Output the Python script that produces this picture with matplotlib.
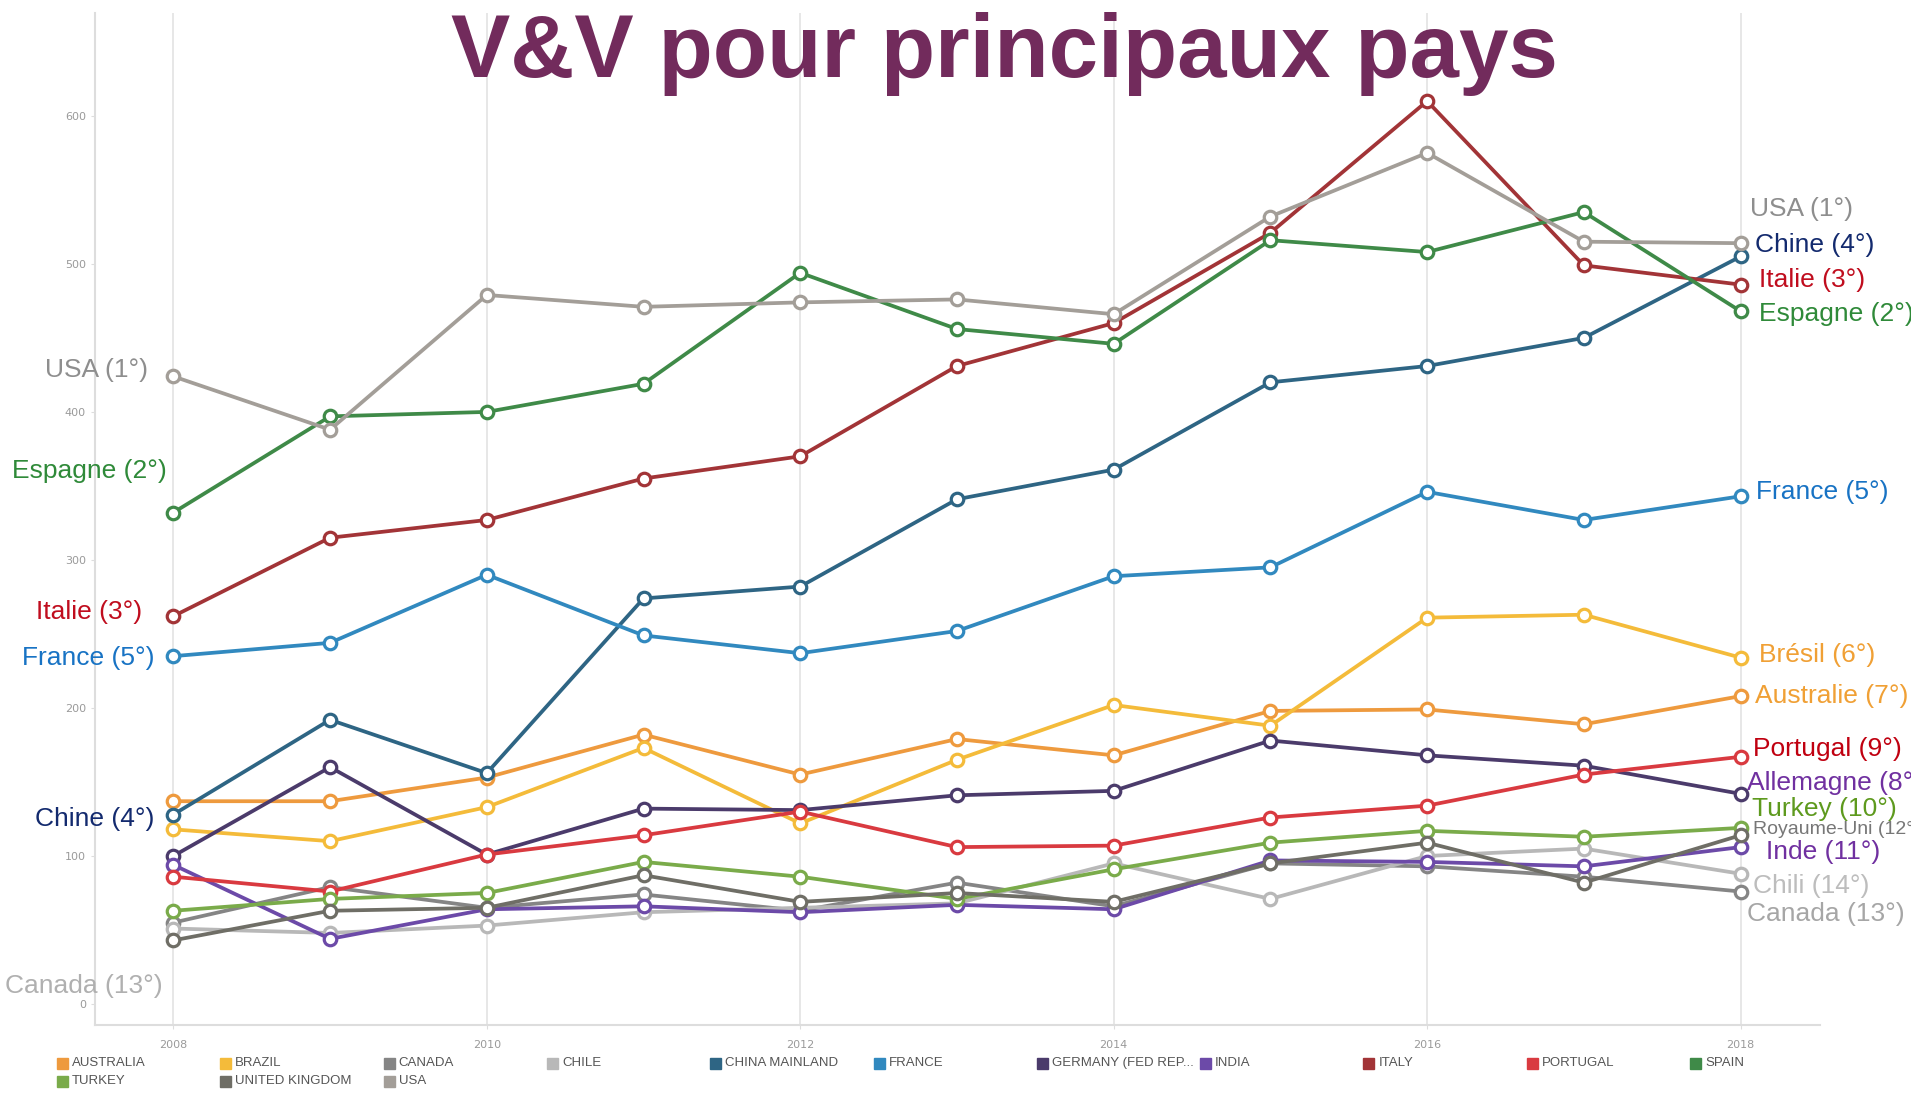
import matplotlib
matplotlib.use("Agg")
import matplotlib.pyplot as plt
from matplotlib.patches import Rectangle

# ---- data ----
years = list(range(2008, 2019))

countries = ["AUSTRALIA", "BRAZIL", "CANADA", "CHILE", "CHINA MAINLAND", "FRANCE",
             "GERMANY (FED REP...", "INDIA", "ITALY", "PORTUGAL", "SPAIN",
             "TURKEY", "UNITED KINGDOM", "USA"]
colors = ["#ee9a3e", "#f4bb3a", "#858585", "#b8b8b8", "#2e6584", "#3189bf",
          "#4b3b6b", "#6c4aa8", "#a23437", "#d93a40", "#3f8a48",
          "#7aab4a", "#6f6e66", "#a39e98"]

australia = [137, 137, 153, 182, 155, 179, 168, 198, 199, 189, 208]
brazil = [118, 110, 133, 173, 122, 165, 202, 188, 261, 263, 234]
canada = [55, 79, 65, 74, 63, 82, 66, 95, 93, 86, 76]
chile = [51, 48, 53, 62, 65, 68, 95, 71, 100, 105, 88]
china = [128, 192, 156, 274, 282, 341, 361, 420, 431, 450, 505]
france = [235, 244, 290, 249, 237, 252, 289, 295, 346, 327, 343]
germany = [100, 160, 101, 132, 131, 141, 144, 178, 168, 161, 142]
india = [94, 44, 64, 66, 62, 67, 64, 97, 96, 93, 106]
italy = [262, 315, 327, 355, 370, 431, 460, 521, 610, 499, 486]
portugal = [86, 76, 101, 114, 130, 106, 107, 126, 134, 155, 167]
spain = [332, 397, 400, 419, 494, 456, 446, 516, 508, 535, 468]
turkey = [63, 71, 75, 96, 86, 71, 91, 109, 117, 113, 119]
uk = [43, 63, 65, 87, 69, 75, 69, 95, 109, 82, 114]
usa = [424, 388, 479, 471, 474, 476, 466, 532, 575, 515, 514]

series = [australia, brazil, canada, chile, china, france, germany, india,
          italy, portugal, spain, turkey, uk, usa]

# annotations: (text, x, y, color, size)
left_labels = [
    ("USA (1°)", 2007.84, 428, "#8e8e8e", 19),
    ("Espagne (2°)", 2007.96, 360, "#2f8a39", 19),
    ("Italie (3°)", 2007.80, 265, "#c00d1e", 19),
    ("France (5°)", 2007.88, 234, "#1873c4", 19),
    ("Chine (4°)", 2007.88, 125, "#132a6e", 19),
    ("Canada (13°)", 2007.93, 12, "#b0b0b0", 19),
]
right_labels = [
    ("USA (1°)", 2018.06, 537, "#8e8e8e", 19),
    ("Chine (4°)", 2018.09, 513, "#132a6e", 19),
    ("Italie (3°)", 2018.12, 489, "#c00d1e", 19),
    ("Espagne (2°)", 2018.12, 466, "#2f8a39", 19),
    ("France (5°)", 2018.10, 346, "#1873c4", 19),
    ("Brésil (6°)", 2018.12, 236, "#f0a035", 19),
    ("Australie (7°)", 2018.09, 208, "#f0a035", 19),
    ("Portugal (9°)", 2018.08, 172, "#c00010", 19),
    ("Allemagne (8°)", 2018.04, 149, "#7030a0", 19),
    ("Turkey (10°)", 2018.07, 132, "#5e9a1e", 19),
    ("Royaume-Uni (12°)", 2018.08, 118, "#777777", 14),
    ("Inde (11°)", 2018.16, 103, "#7030a0", 19),
    ("Chili (14°)", 2018.08, 80, "#bdbdbd", 19),
    ("Canada (13°)", 2018.04, 61, "#a6a6a6", 19),
]

fig = plt.figure(figsize=(19.11, 10.95), dpi=100)
ax = fig.add_axes([0.0497, 0.0639, 0.9027, 0.9241])

for vals, c in zip(series, colors):
    ax.plot(years, vals, color=c, lw=2.7, marker="o", ms=9, mfc="white",
            mec=c, mew=2.3, zorder=3)

ax.set_xlim(2007.50, 2018.507)
ax.set_ylim(-14.2, 669.4)
ax.set_xticks(range(2008, 2019, 2))
ax.set_yticks(range(0, 601, 100))
ax.grid(axis="x", color="#e3e3e3", lw=1.2)
ax.grid(axis="y", visible=False)
for s in ["top", "right"]:
    ax.spines[s].set_visible(False)
for s in ["left", "bottom"]:
    ax.spines[s].set_color("#dddddd")
    ax.spines[s].set_linewidth(1.5)
ax.tick_params(axis="both", colors="#dddddd", labelcolor="#9a9a9a", labelsize=8, length=3)
ax.tick_params(axis="x", pad=8)

for txt, x, y, c, fs in left_labels:
    ax.text(x, y, txt, color=c, fontsize=fs, ha="right", va="center",
            family="Liberation Sans", zorder=5)
for txt, x, y, c, fs in right_labels:
    ax.text(x, y, txt, color=c, fontsize=fs, ha="left", va="center",
            family="Liberation Sans", zorder=5)

fig.text(0.5255, 0.93, "V&V pour principaux pays", color="#722b5c", fontsize=64,
         fontweight="bold", ha="center", va="baseline",
         family="Liberation Sans", zorder=10)

# legend drawn row by row, 11 columns
ncol = 11
for i, (name, c) in enumerate(zip(countries, colors)):
    row, col = divmod(i, ncol)
    x0 = 57 + col * 163.3
    yc = 1063 + row * 18
    fig.patches.append(Rectangle((x0 / 1911, (1095 - yc - 5.5) / 1095), 11 / 1911, 11 / 1095,
                                 transform=fig.transFigure, color=c, figure=fig))
    fig.text((x0 + 15) / 1911, (1095 - yc) / 1095, name, color="#555555", fontsize=9.5,
             ha="left", va="center", family="Liberation Sans")

fig.savefig("out.png", dpi=100)
